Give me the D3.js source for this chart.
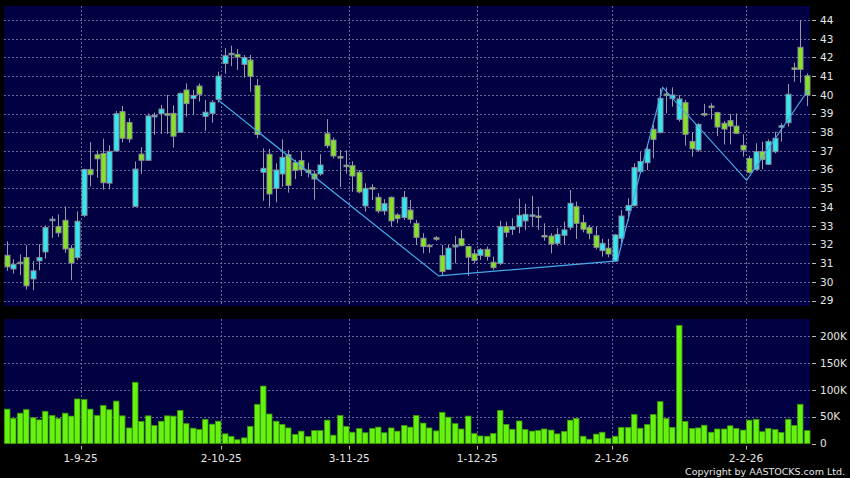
<!DOCTYPE html>
<html><head><meta charset="utf-8">
<script src="https://cdn.jsdelivr.net/npm/d3@7/dist/d3.min.js"></script>
<style>html,body{margin:0;padding:0;background:#000;}svg{display:block}</style>
</head><body>
<svg id="chart" width="850" height="478"></svg>
<script>
// ---- data ----
const openP  = [31.42,30.69,31.05,31.30,30.16,31.12,31.60,33.30,32.95,33.29,31.80,31.30,33.56,36.00,36.80,36.87,35.28,37.00,39.10,38.52,
                34.04,36.83,36.50,38.85,38.99,38.99,39.01,38.00,40.26,39.81,40.47,38.85,39.01,39.76,41.68,42.18,42.16,41.63,41.86,40.49,
                35.86,36.82,35.00,35.77,36.80,36.38,36.48,35.98,35.77,35.77,37.92,37.58,36.70,36.24,36.21,35.86,34.06,35.04,34.52,33.79,
                34.52,33.58,33.44,33.84,33.13,32.33,31.96,32.36,31.40,30.67,31.92,32.31,31.89,31.50,31.42,31.74,31.05,30.99,32.95,32.81,
                32.95,33.26,33.54,33.52,32.48,32.45,32.06,32.49,32.92,34.02,33.17,32.90,32.47,31.67,31.80,31.12,32.33,33.81,34.08,35.89,
                36.37,38.16,37.98,40.04,39.80,38.69,39.58,37.50,37.05,39.00,39.40,39.05,38.48,38.62,38.33,37.30,36.60,36.02,36.96,36.29,
                36.96,38.31,38.51,41.44,42.54,41.02];
const highP  = [32.17,31.21,31.48,31.96,31.12,32.01,33.02,33.50,33.61,34.04,31.96,33.77,36.05,37.47,37.03,37.65,37.30,39.13,39.40,38.75,
                36.44,37.20,39.01,39.05,39.46,39.99,39.44,40.13,40.61,40.26,40.61,39.72,39.72,41.24,42.50,42.63,42.45,42.13,42.13,40.85,
                37.14,37.11,36.34,37.62,37.05,36.53,37.01,36.37,35.95,36.83,38.70,37.72,37.05,37.03,36.45,35.98,35.27,35.22,34.74,34.42,
                34.56,33.67,34.86,34.38,33.31,32.60,32.00,32.45,31.97,31.97,32.45,32.78,31.92,31.74,31.80,31.89,31.35,33.27,33.22,33.40,
                34.45,34.17,34.60,34.02,33.13,32.60,32.87,33.22,34.91,34.29,33.58,33.04,32.95,32.30,32.30,32.54,33.84,34.47,36.34,36.96,
                37.32,38.39,40.35,40.40,40.40,39.99,39.72,38.00,38.48,39.51,39.55,39.10,38.60,38.98,39.01,37.89,36.75,37.41,37.50,37.62,
                38.03,38.48,40.58,41.72,44.00,41.15];
const lowP   = [30.59,30.44,30.36,29.59,29.56,30.62,31.25,32.35,32.40,31.55,30.09,31.16,33.47,35.10,35.57,34.93,34.95,36.94,37.45,37.45,
                34.00,35.78,36.50,37.86,37.91,37.91,37.18,37.96,38.84,38.92,39.64,38.07,38.52,39.58,41.13,41.54,41.33,40.92,40.17,37.68,
                34.33,34.02,34.25,35.09,34.77,35.50,35.65,35.59,34.39,35.68,37.15,36.60,35.07,35.78,34.82,34.74,33.76,34.38,33.67,33.58,
                32.95,33.13,33.31,33.13,31.97,31.53,31.55,32.20,30.32,30.64,30.99,31.89,30.32,30.99,31.17,31.14,30.64,30.90,32.38,32.51,
                32.60,32.78,32.95,32.78,32.20,31.53,31.94,31.97,32.78,32.30,32.65,32.28,31.74,31.35,31.31,31.08,32.06,33.27,34.02,35.77,
                35.98,36.61,37.94,39.01,39.37,38.57,37.28,36.70,36.96,38.83,38.69,37.80,37.35,37.35,37.90,36.70,35.80,35.95,36.02,36.25,
                36.87,37.50,38.30,40.70,40.65,39.40];
const closeP = [30.80,30.94,31.00,29.79,30.59,31.30,32.90,33.35,32.62,31.76,31.01,33.24,36.01,35.73,36.58,35.30,36.98,38.99,37.68,37.64,
                36.03,36.50,38.87,38.90,39.24,38.93,37.79,40.08,39.53,39.97,40.03,39.07,39.60,41.00,42.09,42.22,42.02,41.99,40.99,37.88,
                36.07,34.70,35.98,36.66,35.16,35.96,36.00,35.85,35.50,36.25,37.28,36.73,36.62,36.20,35.66,34.81,35.00,35.00,33.79,34.18,
                33.26,33.38,34.52,33.35,32.38,31.89,31.92,32.28,30.55,31.80,31.95,31.94,31.32,31.14,31.72,31.35,30.76,32.95,32.65,32.95,
                33.56,33.61,33.58,33.50,32.46,32.03,32.54,32.78,34.20,33.13,32.81,32.60,31.85,32.06,31.49,32.51,33.52,34.08,36.11,36.43,
                37.09,37.62,39.81,40.00,39.99,39.78,37.89,37.12,38.42,38.97,39.37,38.28,38.17,38.33,37.94,37.05,35.86,36.96,36.55,37.50,
                37.68,38.35,40.03,41.42,41.36,39.99];
const volumeK = [64,47,56.5,63,48,44,60,52,46.5,56.5,51,83,82,64,52,71,63,79,51.5,29,
                 114,41,51.5,33.5,41.5,51.5,51,61.5,37,28.5,26,45,36,41.5,18,13,7,10.5,32,73,
                 107,55,41.5,35.5,29,17,23,13,24,24,43.5,15.5,52,32,21,28,20,28,30.5,20,
                 29,23,33.5,30.5,52,38,29,23.5,58,49,37,27,51,18.5,14,13.5,18.5,61.5,35.5,26.5,
                 42,26,23,24,27,25,18,22.5,43.5,46.5,13.5,8,17.5,21,9.5,13.5,30,30,54,28.5,
                 35.5,54,78,46.5,30,220,41,28,29,34,21,27,27,33,28,25,43.5,45,22,28,
                 26,20.5,45,33.5,73,24];
const monthIndex  = [12,34,54,74,95,116];
const monthLabels = ["1-9-25","2-10-25","3-11-25","1-12-25","2-1-26","2-2-26"];
const priceTicks  = [29,30,31,32,33,34,35,36,37,38,39,40,41,42,43,44];
const volTicksK   = [0,50,100,150,200];
const zigzagIndex = [32.87,67.47,95.39,102.49,115.61,125.24];
const zigzagValue = [39.76,30.32,31.12,40.40,35.43,40.26];

// ---- layout ----
const svg = d3.select("#chart");
const L = 4, R = 810;
const priceTop = 6, priceBot = 306, volTop = 319, volBot = 443.5;
const n = closeP.length;
const data = d3.range(n).map(i => ({i, o:openP[i], h:highP[i], l:lowP[i], c:closeP[i], v:volumeK[i]}));

const x = d3.scaleLinear().domain([-0.5, n - 0.5]).range([3.8, 809.9]);
const y = d3.scaleLinear().domain([28.71, 44.75]).range([priceBot, priceTop]);
const yv = d3.scaleLinear().domain([0, 232]).range([volBot, volTop]);

const NAVY = "#000042", GRID = "#6a6a9a";
svg.append("rect").attr("width",850).attr("height",478).attr("fill","#000");
svg.append("rect").attr("x",L).attr("y",priceTop).attr("width",R-L).attr("height",priceBot-priceTop).attr("fill",NAVY);
svg.append("rect").attr("x",L).attr("y",volTop).attr("width",R-L).attr("height",volBot-volTop).attr("fill",NAVY);

// grids
const g = svg.append("g").attr("stroke",GRID).attr("stroke-width",1).attr("stroke-dasharray","2,2").attr("shape-rendering","crispEdges");
g.selectAll(".hp").data(priceTicks).join("line")
  .attr("x1",L).attr("x2",R).attr("y1",d=>Math.round(y(d))+0.5).attr("y2",d=>Math.round(y(d))+0.5);
g.selectAll(".hv").data(volTicksK.slice(1)).join("line").attr("class","hv")
  .attr("x1",L).attr("x2",R).attr("y1",d=>Math.round(yv(d))+0.5).attr("y2",d=>Math.round(yv(d))+0.5);
monthIndex.forEach(mi=>{
  const gx = Math.round(x(mi-0.5))+0.5;
  g.append("line").attr("x1",gx).attr("x2",gx).attr("y1",priceTop).attr("y2",priceBot);
  g.append("line").attr("x1",gx).attr("x2",gx).attr("y1",volTop).attr("y2",volBot);
});

// candles
const CYAN = "#2ee8f2", GREEN = "#84e422", EDGE = "#8c8c9c";
const cg = svg.append("g");
cg.selectAll(".wick").data(data).join("line")
  .attr("x1",d=>Math.round(x(d.i))+0.5).attr("x2",d=>Math.round(x(d.i))+0.5)
  .attr("y1",d=>y(d.h)).attr("y2",d=>y(d.l)).attr("stroke","#9a9aa6").attr("stroke-width",1);
cg.selectAll(".body").data(data).join("rect")
  .attr("x",d=>Math.round(x(d.i))-2)
  .attr("y",d=>Math.min(y(d.o),y(d.c)))
  .attr("width",5)
  .attr("height",d=>Math.max(1.5,Math.abs(y(d.o)-y(d.c))))
  .attr("fill",d=>d.c>=d.o?CYAN:GREEN)
  .attr("stroke",EDGE).attr("stroke-width",1);

// zigzag
const zz = zigzagIndex.map((xi,k)=>[x(xi), y(zigzagValue[k])]);
svg.append("path").attr("d",d3.line()(zz)).attr("fill","none").attr("stroke","#46a8e6").attr("stroke-width",1.2);

// volume
svg.append("g").selectAll("rect").data(data).join("rect")
  .attr("x",d=>Math.round(x(d.i))-2.5).attr("width",5.5)
  .attr("y",d=>yv(d.v)).attr("height",d=>volBot-yv(d.v))
  .attr("fill","#66f20e").attr("stroke","#3a9a08").attr("stroke-width",0.8);

// right axes
const FONT = "DejaVu Sans, Verdana, sans-serif";
const TXT = "#e6e6e6";
const pa = svg.append("g").attr("font-family",FONT).attr("font-size","10.5px").attr("fill",TXT);
priceTicks.forEach(t=>{
  pa.append("line").attr("x1",812).attr("x2",816).attr("y1",Math.round(y(t))+0.5).attr("y2",Math.round(y(t))+0.5).attr("stroke","#bbb");
  pa.append("text").attr("x",820).attr("y",y(t)).attr("dy","0.36em").text(t);
});
volTicksK.forEach(t=>{
  pa.append("line").attr("x1",812).attr("x2",816).attr("y1",Math.round(yv(t))+0.5).attr("y2",Math.round(yv(t))+0.5).attr("stroke","#bbb");
  pa.append("text").attr("x",820).attr("y",yv(t)).attr("dy","0.36em").text(t===0?"0":t+"K");
});

// x axis
monthIndex.forEach((mi,k)=>{
  const gx = x(mi-0.5);
  pa.append("line").attr("x1",Math.round(gx)+0.5).attr("x2",Math.round(gx)+0.5).attr("y1",446).attr("y2",449.5).attr("stroke","#bbb");
  pa.append("text").attr("x",gx).attr("y",461.5).attr("text-anchor","middle").text(monthLabels[k]);
});

svg.append("text").attr("x",845).attr("y",475).attr("text-anchor","end")
  .attr("font-family",FONT).attr("font-size","9.5px").attr("fill",TXT).text("Copyright by AASTOCKS.com Ltd.");
</script>
</body></html>
